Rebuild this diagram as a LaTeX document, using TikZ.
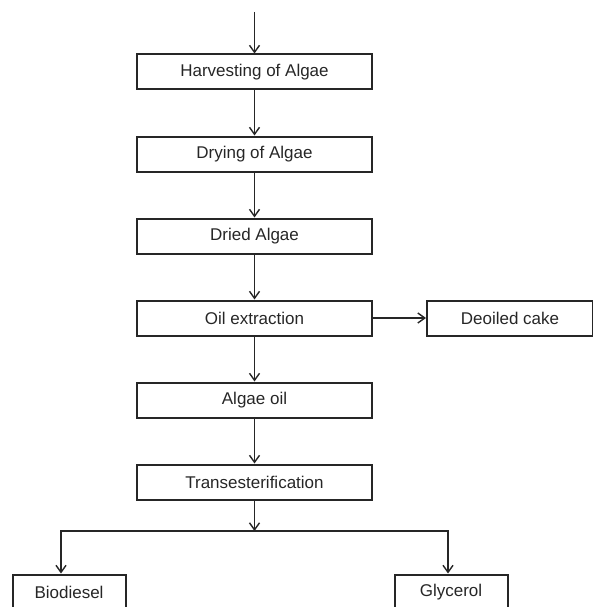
\documentclass[tikz,border=0pt]{standalone}
\usepackage{fontspec}
\setmainfont{Liberation Sans}
\usetikzlibrary{positioning}
\usetikzlibrary{arrows.meta}

\tikzset{
  box/.style={draw=black!85, line width=2pt, minimum width=235pt,
    minimum height=35pt, inner sep=0pt, text=black!85,
    font=\fontsize{17}{20}\selectfont},
  smallbox/.style={box, minimum width=113pt},
  arr/.style={draw=black!85, line width=1.4pt,
    -{Straight Barb[length=7pt, width=10pt, line width=1.4pt]}},
}

\begin{document}
\begin{tikzpicture}[node distance=45pt]
    \useasboundingbox (0,0) rectangle (592pt,-607pt);

    \node[box] (harvest) at (254.5pt,-72pt) {Harvesting of Algae};
    \node[box, below=of harvest] (drying) {Drying of Algae};
    \node[box, below=of drying] (dried) {Dried Algae};
    \node[box, below=of dried] (extract) {Oil extraction};
    \node[box, minimum width=166pt, right=53pt of extract] (cake) {Deoiled cake};
    \node[box, below=of extract] (oil) {Algae oil};
    \node[box, below=of oil] (trans) {Transesterification};
    \node[smallbox] (biodiesel) at (69pt,-592pt) {Biodiesel};
    \node[smallbox] (glycerol) at (451pt,-592pt) {Glycerol};

    \coordinate (start) at (254.5pt,-12pt);
    \coordinate (split) at (254.5pt,-531pt);

    % Connect the nodes
    \draw[arr] (start) -- (harvest); %
    \draw[arr] (harvest) -- (drying); %
    \draw[arr] (drying) -- (dried); %
    \draw[arr] (dried) -- (extract); %
    \draw[arr] (extract) -- (cake); %
    \draw[arr] (extract) -- (oil); %
    \draw[arr] (oil) -- (trans); %
    \draw[arr] (trans) -- (split); %
    \draw[arr] (split) -| ([xshift=-8pt]biodiesel.north); %
    \draw[arr] (split) -| ([xshift=-3pt]glycerol.north); %
\end{tikzpicture}
\end{document}
